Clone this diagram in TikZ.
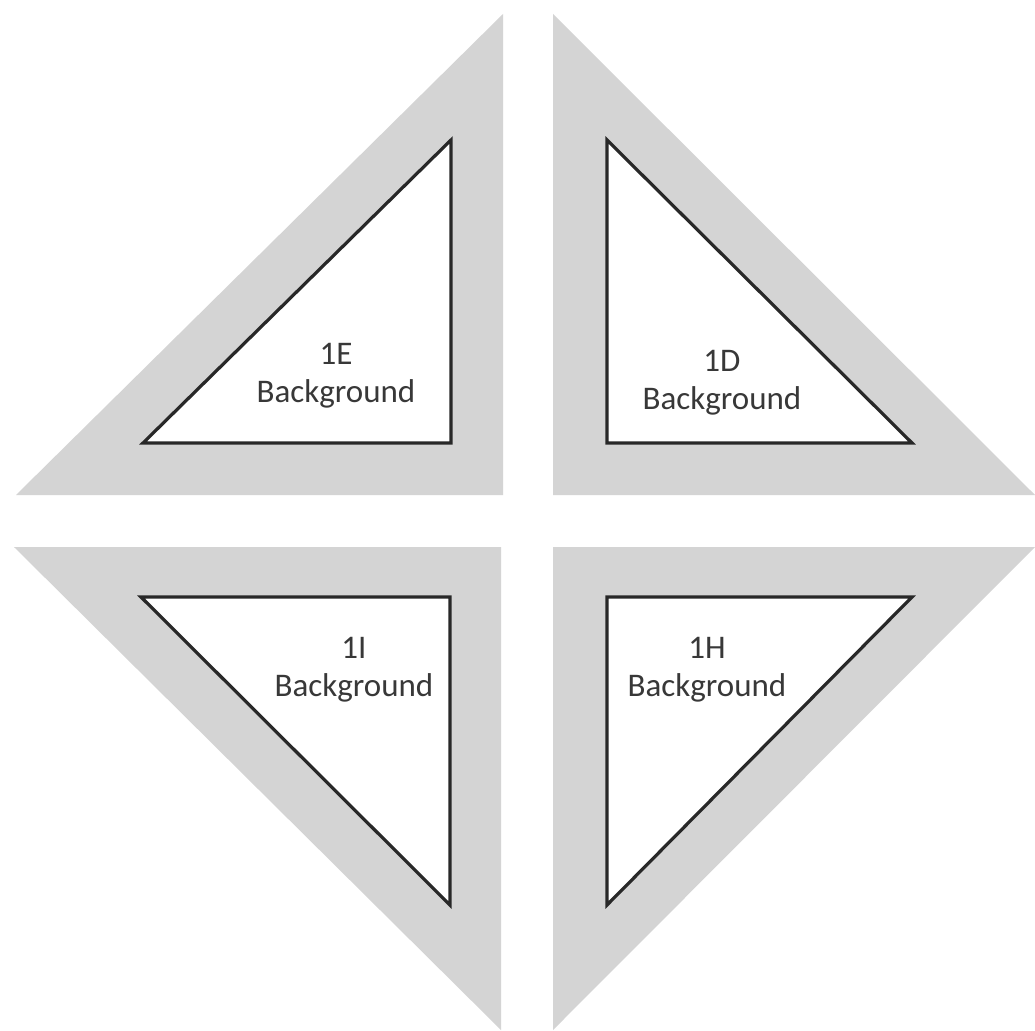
\documentclass[tikz,border=0pt]{standalone}
\usepackage{fontspec}
\setmainfont{Carlito}
\definecolor{bgray}{RGB}{212,212,212}
\definecolor{txt}{RGB}{56,56,56}
\definecolor{edge}{RGB}{40,40,40}
\tikzset{
  outer/.style={fill=bgray, draw=none},
  inner/.style={fill=white, draw=edge, line width=3.2pt, line join=miter},
  lbl/.style={text=txt, font=\fontsize{33}{38}\selectfont, align=center, inner sep=0pt}
}
\begin{document}
\begin{tikzpicture}[x=1pt,y=-1pt]
\useasboundingbox (0,0) rectangle (1035,1030);
\fill[white] (0,0) rectangle (1035,1030);
% top-left
\path[outer] (503,14) -- (503,495) -- (16,495) -- cycle;
\path[inner] (451,140) -- (451,443) -- (143,443) -- cycle;
% top-right
\path[outer] (553,14) -- (553,495) -- (1035,495) -- cycle;
\path[inner] (607,140) -- (607,443) -- (912,443) -- cycle;
% bottom-left
\path[outer] (14,547) -- (501,547) -- (501,1030) -- cycle;
\path[inner] (141,597) -- (450,597) -- (450,905) -- cycle;
% bottom-right
\path[outer] (553,547) -- (1035,547) -- (553,1030) -- cycle;
\path[inner] (607,597) -- (912,597) -- (607,905) -- cycle;
% labels
\node[lbl] (e) at (336,376) {1E\\Background};
\node[lbl] (d) at (722,383) {1D\\Background};
\node[lbl] (i) at (354,670) {1I\\Background};
\node[lbl] (h) at (707,670) {1H\\Background};
\end{tikzpicture}
\end{document}
